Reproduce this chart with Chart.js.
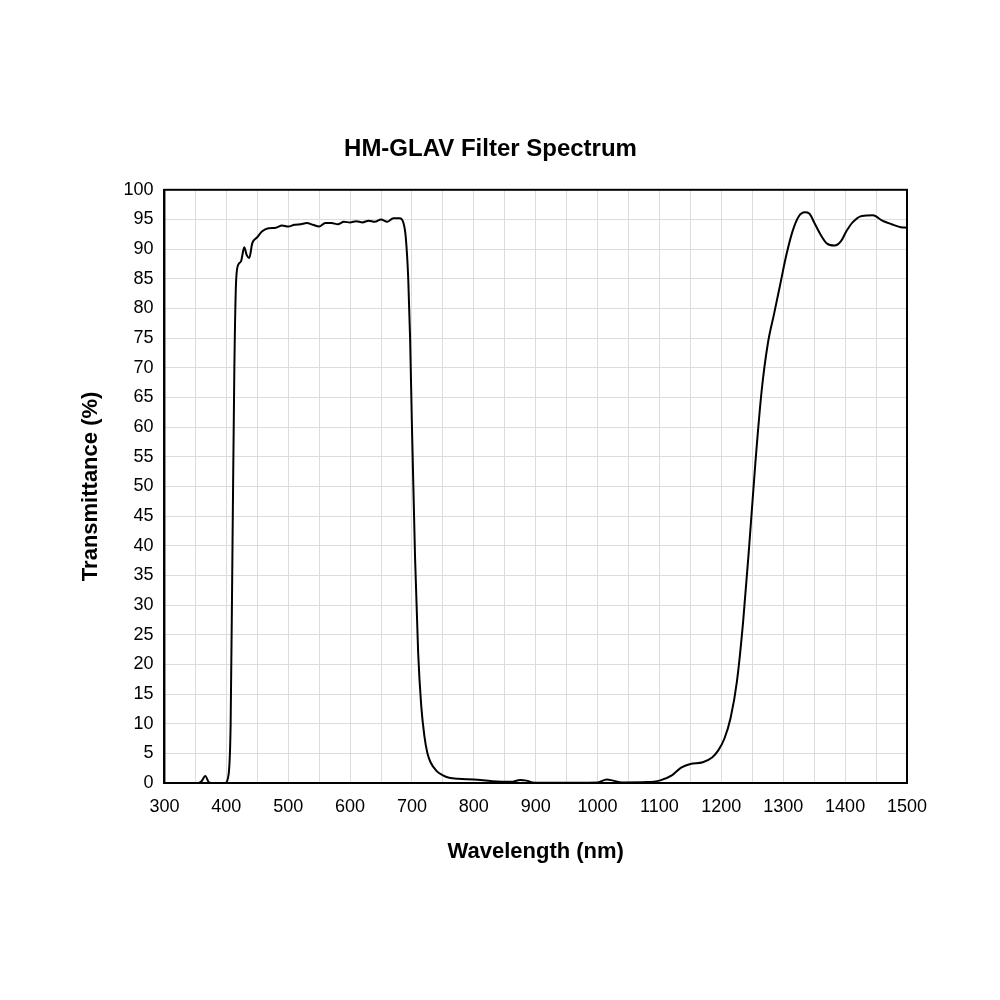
<!DOCTYPE html>
<html>
<head>
<script src="https://cdn.jsdelivr.net/npm/chart.js@4"></script>
<style>
  body { margin: 0; background: #fff; }
  #wrap { width: 1000px; height: 1000px; }
</style>
</head>
<body>
<div id="wrap"><canvas id="c"></canvas></div>
<script>
const wavelengths = [300, 355, 360, 366, 372, 380, 398, 403, 407, 410, 413, 416, 420, 424, 429, 433, 437, 442, 450, 458, 468, 480, 490, 500, 510, 520, 530, 540, 550, 560, 570, 580, 590, 600, 610, 620, 630, 640, 650, 660, 670, 680, 686, 690, 694, 697, 700, 705, 710, 715, 720, 725, 730, 740, 750, 760, 775, 800, 830, 860, 875, 885, 895, 920, 1000, 1015, 1025, 1040, 1080, 1100, 1120, 1135, 1150, 1170, 1185, 1195, 1205, 1215, 1225, 1235, 1245, 1255, 1265, 1275, 1285, 1295, 1305, 1315, 1325, 1335, 1342, 1350, 1360, 1370, 1383, 1393, 1402, 1412, 1427, 1445, 1460, 1475, 1490, 1500];
const transmittance = [0, 0, 0.3, 1.2, 0.1, 0, 0, 1, 10, 40, 70, 85, 87.5, 88, 90.3, 89, 88.5, 91, 92, 93, 93.5, 93.6, 94, 93.8, 94.1, 94.2, 94.4, 94.1, 93.8, 94.4, 94.4, 94.2, 94.6, 94.5, 94.7, 94.5, 94.8, 94.6, 95, 94.6, 95.2, 95.2, 94.5, 92, 85, 75, 60, 38, 22, 13, 8, 5, 3.5, 2, 1.3, 0.9, 0.7, 0.6, 0.3, 0.2, 0.5, 0.4, 0.1, 0.05, 0.1, 0.6, 0.4, 0.1, 0.15, 0.4, 1.3, 2.6, 3.2, 3.5, 4.3, 5.5, 7.5, 11, 17, 27, 40, 54, 66, 74, 79, 84, 89, 93, 95.5, 96.2, 96, 94.5, 92.5, 91, 90.6, 91.3, 93, 94.5, 95.6, 95.7, 94.8, 94.2, 93.7, 93.6];

const points = wavelengths.map((x, i) => ({ x: x, y: transmittance[i] }));

// black frame around plot area
const frame = {
  id: 'frame',
  afterDraw(chart) {
    const a = chart.chartArea, ctx = chart.ctx;
    ctx.save();
    ctx.strokeStyle = '#000';
    ctx.lineWidth = 2;
    ctx.strokeRect(a.left, a.top, a.right - a.left, a.bottom - a.top);
    ctx.restore();
  }
};

new Chart(document.getElementById('c'), {
  type: 'line',
  data: {
    datasets: [{
      data: points,
      borderColor: '#000',
      borderWidth: 2,
      pointRadius: 0,
      cubicInterpolationMode: 'monotone',
      fill: false
    }]
  },
  options: {
    responsive: true,
    maintainAspectRatio: false,
    animation: false,
    layout: { padding: { left: 74, right: 93, top: 135, bottom: 131 } },
    plugins: {
      legend: { display: false },
      tooltip: { enabled: false },
      title: {
        display: true,
        text: 'HM-GLAV Filter Spectrum',
        color: '#000',
        font: { family: 'Liberation Sans, Arial', size: 24, weight: 'bold' },
        padding: { top: 0, bottom: 26 }
      }
    },
    scales: {
      x: {
        type: 'linear',
        min: 300, max: 1500,
        grid: { color: '#dcdcdc', drawTicks: false },
        border: { color: '#000', width: 2 },
        ticks: {
          stepSize: 50, autoSkip: false, maxRotation: 0, padding: 13,
          color: '#000', font: { family: 'Liberation Sans, Arial', size: 18 },
          callback: v => (v % 100 === 0 ? v : '')
        },
        title: {
          display: true, text: 'Wavelength (nm)', color: '#000',
          font: { family: 'Liberation Sans, Arial', size: 22, weight: 'bold' },
          padding: { top: 8 }
        }
      },
      y: {
        min: 0, max: 100,
        grid: { color: '#dcdcdc', drawTicks: false },
        border: { color: '#000', width: 2 },
        ticks: {
          stepSize: 5, autoSkip: false, padding: 11,
          color: '#000', font: { family: 'Liberation Sans, Arial', size: 18 }
        },
        title: {
          display: true, text: 'Transmittance (%)', color: '#000',
          font: { family: 'Liberation Sans, Arial', size: 22, weight: 'bold' },
          padding: { bottom: 8 }
        }
      }
    }
  },
  plugins: [frame]
});
</script>
</body>
</html>
